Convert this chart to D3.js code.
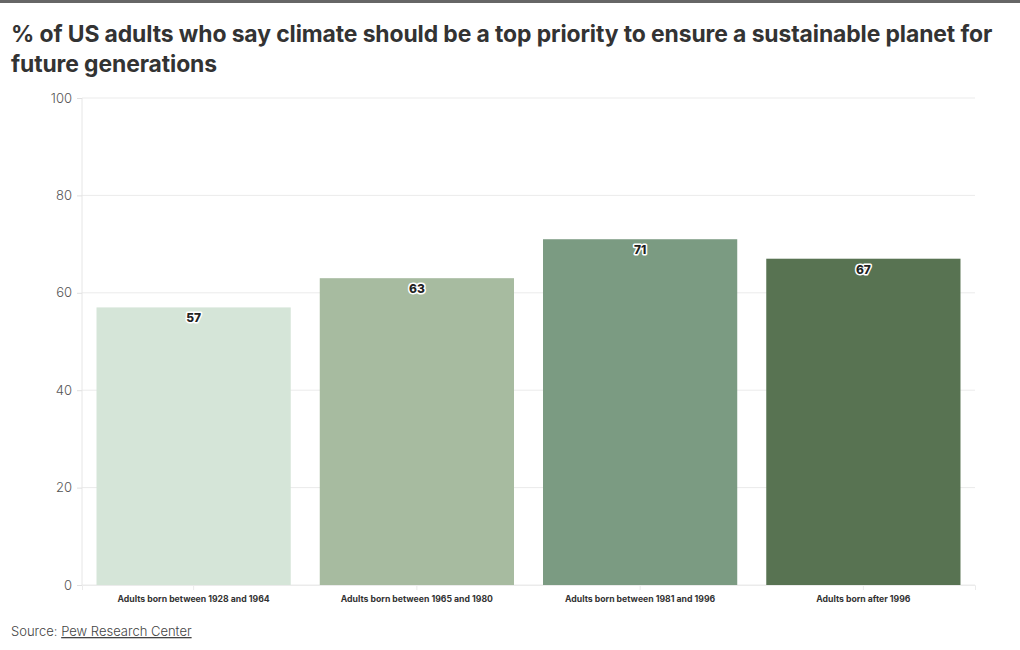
<!DOCTYPE html>
<html><head><meta charset="utf-8">
<script src="https://cdn.jsdelivr.net/npm/d3@7"></script>
<style>
body{margin:0;background:#fff;}
svg{display:block;font-family:Inter, "Noto Sans", sans-serif;}
</style></head><body>
<svg id="c" width="1020" height="650"></svg>
<script>
const categories = ["Adults born between 1928 and 1964","Adults born between 1965 and 1980","Adults born between 1981 and 1996","Adults born after 1996"];
const values = [57, 63, 71, 67];
const colors = ["#d5e5d8","#a7bba0","#7b9b82","#587352"];
const yTicks = [0, 20, 40, 60, 80, 100];
const titleLines = ["% of US adults who say climate should be a top priority to ensure a sustainable planet for","future generations"];

(function(){
const svg = d3.select("#c");
svg.append("rect").attr("x",0).attr("y",0).attr("width",1020).attr("height",3).attr("fill","#666");
svg.append("text").attr("x",11).attr("y",0).attr("fill","#333")
  .attr("font-size",22.9).attr("font-weight",700).attr("letter-spacing",-0.1)
  .selectAll("tspan").data(titleLines).join("tspan")
  .attr("x",11).attr("y",(d,i)=>42+i*30).text(d=>d);

const L=82, R=975, T=98, B=585;
const x = d3.scaleBand().domain(categories).range([L,R]).paddingInner(0.13).paddingOuter(0.065);
const y = d3.scaleLinear().domain([0,100]).range([B,T]);

svg.append("g").selectAll("line").data(yTicks).join("line")
  .attr("x1",L).attr("x2",R).attr("y1",d=>y(d)).attr("y2",d=>y(d))
  .attr("stroke","#ebebeb").attr("stroke-width",1);
svg.append("line").attr("x1",L).attr("x2",L).attr("y1",T).attr("y2",B).attr("stroke","#e6e6e6");

const ya = svg.append("g").attr("transform",`translate(${L},0)`)
  .call(d3.axisLeft(y).tickValues(yTicks).tickSize(5).tickPadding(5));
ya.select(".domain").remove();
ya.selectAll("line").attr("stroke","#e0e0e0");
ya.selectAll("text").attr("fill","#555").attr("font-size",13).attr("font-family","Inter, sans-serif").attr("font-weight",300);

svg.append("g").selectAll("rect").data(categories).join("rect")
  .attr("x",d=>x(d)).attr("width",x.bandwidth())
  .attr("y",(d,i)=>y(values[i])).attr("height",(d,i)=>y(0)-y(values[i]))
  .attr("fill",(d,i)=>colors[i]);

const xa = svg.append("g").attr("transform",`translate(0,${B})`)
  .call(d3.axisBottom(x).tickSize(5).tickPadding(6));
xa.select(".domain").attr("stroke","#ebebeb");
xa.selectAll("line").attr("stroke","#ebebeb");
xa.selectAll("text").attr("fill","#333").attr("font-size",8.7).attr("font-weight",700).attr("font-family","Inter, sans-serif");

svg.append("g").selectAll("text").data(categories).join("text")
  .attr("x",d=>x(d)+x.bandwidth()/2).attr("y",(d,i)=>y(values[i])+15)
  .attr("text-anchor","middle").attr("font-size",12).attr("font-weight",800)
  .attr("fill","#222").attr("stroke","#fff").attr("stroke-width",3).attr("paint-order","stroke")
  .attr("stroke-linejoin","round")
  .text((d,i)=>values[i]);

const src = svg.append("text").attr("x",11).attr("y",636).attr("font-size",13).attr("fill","#444").attr("font-weight",300);
src.append("tspan").text("Source: ");
src.append("tspan").attr("text-decoration","underline").text("Pew Research Center");
})();
</script>
</body></html>
